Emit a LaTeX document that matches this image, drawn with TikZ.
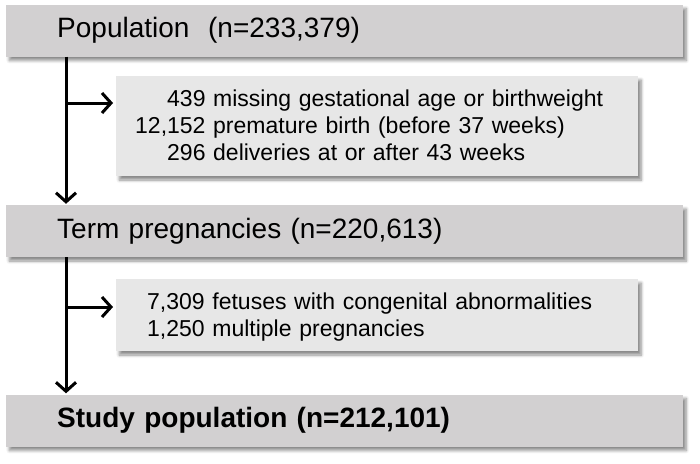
\documentclass[tikz,border=0pt]{standalone}
\usepackage{fontspec}
\setmainfont{Liberation Sans}
\usetikzlibrary{arrows.meta,shadows.blur,positioning}
\definecolor{mainfill}{RGB}{210,208,209}
\definecolor{subfill}{RGB}{231,231,231}
\tikzset{
  shadowed/.style={blur shadow={shadow xshift=3pt,shadow yshift=-4pt,shadow blur steps=6,shadow blur radius=3pt,shadow opacity=45}},
  mainbox/.style={shadowed,fill=mainfill,draw=none,rectangle,minimum width=677pt,minimum height=52pt,inner xsep=51pt,text width=575pt,align=left,font=\fontsize{28}{33}\selectfont,anchor=west},
  subbox/.style={shadowed,fill=subfill,draw=none,rectangle,minimum width=522pt,align=left,font=\fontsize{23}{27}\selectfont,anchor=west},
  arr/.style={line width=3pt,-{Straight Barb[length=9pt,width=20pt,line width=3pt]}}
}
\begin{document}
\begin{tikzpicture}[x=1pt,y=-1pt]
\useasboundingbox (0,0) rectangle (700,463);
\node[mainbox] (pop) at (6,30.5) {Population~~(n=233,379)};
\node[subbox,minimum height=100pt,inner xsep=19pt,text width=484pt] (ex1) at (116,126)
  {\raisebox{-2.5pt}[\height][\depth]{\begin{tabular}{@{}r@{ }l@{}}
  439 & missing gestational age or birthweight\\
  12,152 & premature birth (before 37 weeks)\\
  296 & deliveries at or after 43 weeks
  \end{tabular}}};
\node[mainbox] (term) at (6,231) {Term pregnancies (n=220,613)};
\node[subbox,minimum height=72pt,inner xsep=31pt,text width=460pt] (ex2) at (116,315)
  {\raisebox{-3pt}[\height][\depth]{\begin{tabular}{@{}l@{}}
  7,309 fetuses with congenital abnormalities\\1,250 multiple pregnancies
  \end{tabular}}};
\node[mainbox,font=\fontsize{28}{33}\selectfont\bfseries] (study) at (6,420.5) {Study population (n=212,101)};
\coordinate (spine) at (66,0);
\coordinate (b1) at (66,103);
\coordinate (b2) at (66,307);
\draw[arr,shorten >=1pt] (pop.south -| spine) -- (term.north -| spine);
\draw[arr,shorten >=1pt] (term.south -| spine) -- (study.north -| spine);
\draw[arr,shorten >=3pt] (b1) -- (b1 -| ex1.west);
\draw[arr,shorten >=3pt] (b2) -- (b2 -| ex2.west);
\end{tikzpicture}
\end{document}
